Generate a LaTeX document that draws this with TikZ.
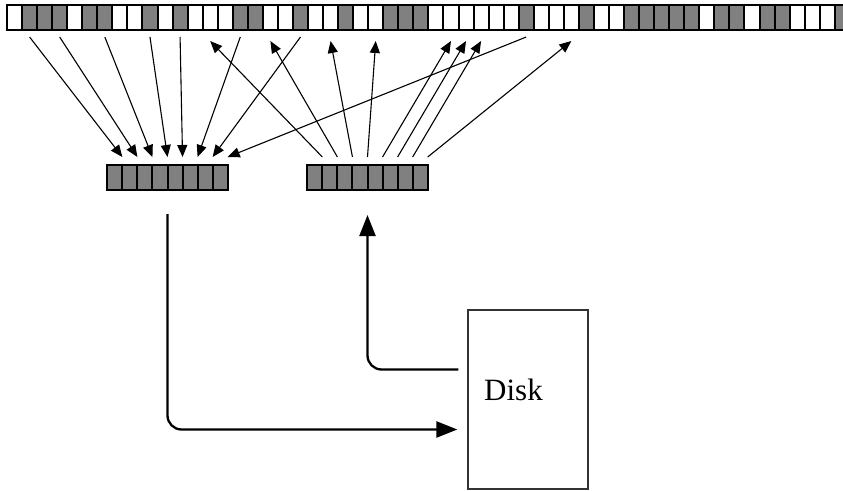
\documentclass[tikz,border=0pt]{standalone}
\usepackage{fontspec}
\setmainfont{Liberation Serif}
\usetikzlibrary{arrows, arrows.meta}
\usetikzlibrary{calc}

\begin{document}
\begin{tikzpicture}[x=1pt, y=-1pt,
    cell/.style={rectangle, draw, line width=2pt, inner sep=0pt, outer sep=0pt, minimum width=15.05pt, minimum height=24.5pt},
    bufcell/.style={rectangle, draw, fill=gray, line width=2pt, inner sep=0pt, outer sep=0pt, minimum width=15.05pt, minimum height=25pt},
    pgarrow/.style={line width=1.1pt, -{Triangle[length=12pt, width=10pt]}},
    ioarrow/.style={line width=2.3pt, rounded corners=14pt, -{Triangle[length=21pt, width=16pt]}}]

      \useasboundingbox (0,0) rectangle (843,490);
      \clip (0,0) rectangle (843,490);

      \foreach \f [count=\i from 0] in {white,gray,gray,gray,white,gray,gray,white,white,gray,
          white,gray,white,white,white,gray,gray,white,white,gray,
          white,white,gray,white,white,gray,gray,gray,white,white,
          white,white,white,white,gray,white,white,white,gray,white,
          white,gray,gray,gray,gray,gray,white,gray,gray,white,
          gray,gray,white,white,white,gray}
        \node[cell, fill=\f] (t\i) at ({14.525+15.05*\i}, 17.25) {};

      \foreach \i in {1,...,8} {
        \node[bufcell] (out\i) at ({107.3+15.05*(\i-0.5)}, 177.5) {};
        \node[bufcell] (in\i) at ({307.3+15.05*(\i-0.5)}, 177.5) {};
      }

      \node[draw=black!80, line width=1.3pt, inner sep=0pt, minimum width=120pt, minimum height=179pt] (disk) at (528,399.5) {};
      \node[anchor=base west, inner sep=0pt, font=\fontsize{31}{36}\selectfont] (disklabel) at (484,400) {Disk};

      \foreach \s/\d in {1/1, 3/2, 6/3, 9/4, 11/5, 15/6, 19/7, 34/8}
        \draw[pgarrow] ([yshift=-7.5pt]t\s.south) -- ([yshift=8pt]out\d.north east);

      \foreach \s/\d in {1/13, 2/17, 3/21, 4/24, 5/29, 6/30, 7/31, 8/37}
        \draw[pgarrow] ([yshift=8pt]in\s.north east) -- ([yshift=-11.5pt]t\d.south);

      \draw[ioarrow] ([yshift=-24pt]out4.south east) |- ([xshift=-10pt, yshift=-30pt]disk.west);
      \draw[ioarrow] ([xshift=-9pt, yshift=30pt]disk.west) -| ([yshift=-25pt]in4.south east);

    \end{tikzpicture}
\end{document}
